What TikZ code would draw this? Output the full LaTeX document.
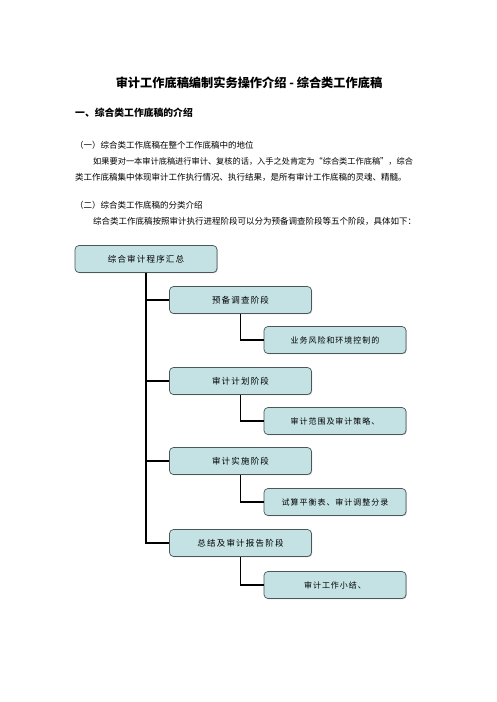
\documentclass[tikz,border=0pt]{standalone}
\usepackage{fontspec}
\setmainfont{Noto Sans CJK SC}
\newfontfamily\stagefont[LetterSpace=14]{Noto Sans CJK SC}
\newfontfamily\subfont[LetterSpace=12]{Noto Sans CJK SC}
\usepackage{tikz}
\usetikzlibrary{positioning, shadows}
\definecolor{boxfill}{HTML}{C4E2E4}
\definecolor{boxline}{HTML}{4C575A}
\tikzset{
    stagebox/.style={
        draw = boxline, fill = boxfill, line width = 0.7pt,
        rounded corners = 4pt,
        minimum width = 142pt,
        minimum height = 27pt,
        align = center,
        drop shadow = {shadow xshift=0.7pt, shadow yshift=-0.7pt, fill=black!55},
        font = \stagefont\fontsize{8.5}{10}\selectfont
    },
    subbox/.style = {stagebox, font = \subfont\fontsize{8}{10}\selectfont},
    bodytext/.style = {anchor = west, inner sep = 0pt, font = \fontsize{8.5}{10}\selectfont},
    line/.style = {line width = 1.3pt}
}

\begin{document}
\begin{tikzpicture}[x=1pt, y=-1pt]

    \useasboundingbox[fill=white] (0,0) rectangle (496,702);

    \node[font=\bfseries\fontsize{12.2}{14}\selectfont] (title) at (249,83) {审计工作底稿编制实务操作介绍 - 综合类工作底稿};
    \node[bodytext, font=\bfseries\fontsize{9.8}{12}\selectfont] (head) at (75,113) {一、综合类工作底稿的介绍};
    \node[bodytext] (sec1) at (75,145) {（一）综合类工作底稿在整个工作底稿中的地位};
    \node[bodytext, font=\fontsize{8.2}{10}\selectfont] (par1a) at (93,161) {如果要对一本审计底稿进行审计、复核的话，入手之处肯定为“综合类工作底稿”，综合};
    \node[bodytext] (par1b) at (75,177) {类工作底稿集中体现审计工作执行情况、执行结果，是所有审计工作底稿的灵魂、精髓。};
    \node[bodytext] (sec2) at (75,205) {（二）综合类工作底稿的分类介绍};
    \node[bodytext] (par2) at (93,221) {综合类工作底稿按照审计执行进程阶段可以分为预备调查阶段等五个阶段，具体如下：};

    \node[stagebox] (total) at (146,259) {综合审计程序汇总};
    \node[stagebox] (prep) at (240.5,300) {预备调查阶段};
    \node[stagebox] (plan) at (240.5,381) {审计计划阶段};
    \node[stagebox] (exec) at (240.5,461) {审计实施阶段};
    \node[stagebox] (report) at (240.5,543) {总结及审计报告阶段};
    \node[subbox] (risk) at (335,340) {业务风险和环境控制的};
    \node[subbox] (scope) at (335,421) {审计范围及审计策略、};
    \node[subbox] (trial) at (335,502) {试算平衡表、审计调整分录};
    \node[subbox] (summary) at (335,585) {审计工作小结、};

    \draw[line] (total.south) |- (prep.west);
    \draw[line] (total.south) |- (plan.west);
    \draw[line] (total.south) |- (exec.west);
    \draw[line] (total.south) |- (report.west);
    \draw[line] (prep.south) |- (risk.west);
    \draw[line] (plan.south) |- (scope.west);
    \draw[line] (exec.south) |- (trial.west);
    \draw[line] (report.south) |- (summary.west);

\end{tikzpicture}
\end{document}
